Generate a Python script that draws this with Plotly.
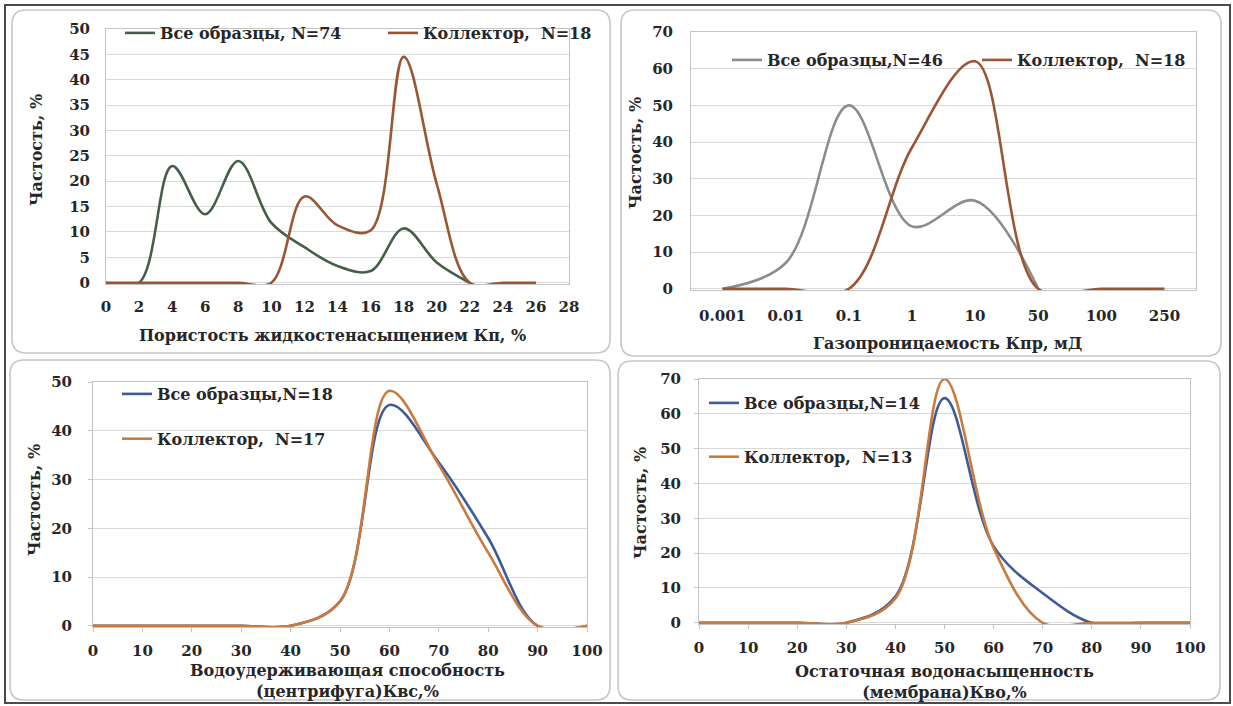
import plotly.graph_objects as go

W, H = 1233, 706

# ---------------- data ----------------
# Panel 1: porosity
por_x = [0, 2, 4, 6, 8, 10, 12, 14, 16, 18, 20, 22, 24, 26]
por_all = [0, 0, 23, 13.5, 24, 11.8, 7, 3.3, 2.3, 10.7, 4, 0, None, None]
por_col = [0, 0, 0, 0, 0, 0, 17, 11.3, 10.3, 44.5, 19.5, 0, 0, 0]
por_ticks = [0, 2, 4, 6, 8, 10, 12, 14, 16, 18, 20, 22, 24, 26, 28]

# Panel 2: gas permeability (category axis)
perm_cats = ["0.001", "0.01", "0.1", "1", "10", "50", "100", "250"]
perm_all = [0, 7, 50, 17, 24, 0, None, None]
perm_col = [0, 0, 0, 38.5, 62, 0, 0, 0]

# Panel 3: water holding capacity (centrifuge)
kvs_x = [0, 10, 20, 30, 40, 50, 60, 70, 80, 90, 100]
kvs_all = [0, 0, 0, 0, 0, 5, 45.3, 33.5, 18, 0, 0]
kvs_col = [0, 0, 0, 0, 0, 5, 48.2, 33, 15, 0, 0]

# Panel 4: residual water saturation (membrane)
kvo_x = [0, 10, 20, 30, 40, 50, 60, 70, 80, 90, 100]
kvo_all = [0, 0, 0, 0, 7.5, 64.5, 22, 8.5, 0, 0, 0]
kvo_col = [0, 0, 0, 0, 7, 70, 21.5, 0, 0, 0, 0]

names1 = ["Все образцы, N=74", "Коллектор,\u00a0 N=18"]
names2 = ["Все образцы,N=46", "Коллектор,\u00a0 N=18"]
names3 = ["Все образцы,N=18", "Коллектор,\u00a0 N=17"]
names4 = ["Все образцы,N=14", "Коллектор,\u00a0 N=13"]

GREEN = "#435f48"
BROWN = "#9a5533"
GRAY = "#8c8c8c"
BLUE = "#3d5a9a"
ORANGE = "#c97a3c"

FONT = "DejaVu Serif"
TXT = "#262626"


def px(x):
    return x / W


def py(y):
    return 1 - y / H


fig = go.Figure()
LW = 2.6
spl = dict(shape="spline", smoothing=1.0)

fig.add_trace(go.Scatter(x=por_x, y=por_all, mode="lines", name=names1[0],
                         line=dict(color=GREEN, width=LW, **spl), xaxis="x", yaxis="y",
                         legend="legend"))
fig.add_trace(go.Scatter(x=por_x, y=por_col, mode="lines", name=names1[1],
                         line=dict(color=BROWN, width=LW, **spl), xaxis="x", yaxis="y",
                         legend="legend"))

fig.add_trace(go.Scatter(x=perm_cats, y=perm_all, mode="lines", name=names2[0],
                         line=dict(color=GRAY, width=LW, **spl), xaxis="x2", yaxis="y2",
                         legend="legend2"))
fig.add_trace(go.Scatter(x=perm_cats, y=perm_col, mode="lines", name=names2[1],
                         line=dict(color=BROWN, width=LW, **spl), xaxis="x2", yaxis="y2",
                         legend="legend2"))

fig.add_trace(go.Scatter(x=kvs_x, y=kvs_all, mode="lines", name=names3[0],
                         line=dict(color=BLUE, width=LW, **spl), xaxis="x3", yaxis="y3",
                         legend="legend3", legendgroup="a3"))
fig.add_trace(go.Scatter(x=kvs_x, y=kvs_col, mode="lines", name=names3[1],
                         line=dict(color=ORANGE, width=LW, **spl), xaxis="x3", yaxis="y3",
                         legend="legend3", legendgroup="b3"))

fig.add_trace(go.Scatter(x=kvo_x, y=kvo_all, mode="lines", name=names4[0],
                         line=dict(color=BLUE, width=LW, **spl), xaxis="x4", yaxis="y4",
                         legend="legend4", legendgroup="a4"))
fig.add_trace(go.Scatter(x=kvo_x, y=kvo_col, mode="lines", name=names4[1],
                         line=dict(color=ORANGE, width=LW, **spl), xaxis="x4", yaxis="y4",
                         legend="legend4", legendgroup="b4"))

tickfont = dict(family=FONT, size=15, color=TXT, weight="bold")
GRID = "#d9d9d9"
LINE = "#c4c4c4"


def xax(dom, anchor, **kw):
    d = dict(domain=[px(dom[0]), px(dom[1])], anchor=anchor, showgrid=False,
             showline=True, linecolor=LINE, linewidth=1, mirror=True,
             tickfont=tickfont, zeroline=False, fixedrange=True, automargin=False)
    d.update(kw)
    return d


def yax(dom, anchor, **kw):
    d = dict(domain=[py(dom[1]), py(dom[0])], anchor=anchor, showgrid=True,
             gridcolor=GRID, gridwidth=1, showline=True, linecolor=LINE,
             linewidth=1, mirror=True, tickfont=tickfont, zeroline=False,
             fixedrange=True, automargin=False)
    d.update(kw)
    return d


layout = dict(
    width=W, height=H,
    margin=dict(l=0, r=0, t=0, b=0, pad=0, autoexpand=False),
    paper_bgcolor="white", plot_bgcolor="white",
    font=dict(family=FONT, color=TXT),
    xaxis=xax((106, 569), "y", range=[0, 28], tickmode="array", tickvals=por_ticks,
              ticks="", ticklabelstandoff=9),
    yaxis=yax((29, 284), "x", range=[-0.25, 50], tick0=0, dtick=5, ticks="",
              ticklabelstandoff=12),
    xaxis2=xax((691, 1196), "y2", type="category", range=[-0.5, 7.5], ticks="",
               ticklabelstandoff=12),
    yaxis2=yax((32, 290), "x2", range=[-0.35, 70], tick0=0, dtick=10, ticks="",
               ticklabelstandoff=14),
    xaxis3=xax((93, 587), "y3", range=[0, 100], dtick=10, ticks="outside", ticklen=4,
               tickcolor=LINE, ticklabelstandoff=6),
    yaxis3=yax((382, 627), "x3", range=[-0.25, 50], dtick=10, ticks="outside", ticklen=4,
               tickcolor=LINE, ticklabelstandoff=13),
    xaxis4=xax((699, 1190), "y4", range=[0, 100], dtick=10, ticks="outside", ticklen=4,
               tickcolor=LINE, ticklabelstandoff=6),
    yaxis4=yax((379, 624), "x4", range=[-0.35, 70], dtick=10, ticks="outside", ticklen=4,
               tickcolor=LINE, ticklabelstandoff=10),
)

legfont = dict(family=FONT, size=16, color=TXT, weight="bold")
layout["legend"] = dict(orientation="h", x=px(120), y=py(33), xanchor="left", yanchor="middle",
                        font=legfont, bgcolor="rgba(0,0,0,0)", entrywidth=218,
                        entrywidthmode="pixels", itemclick=False, itemdoubleclick=False)
layout["legend2"] = dict(orientation="h", x=px(727), y=py(60), xanchor="left", yanchor="middle",
                         font=legfont, bgcolor="rgba(0,0,0,0)", entrywidth=205,
                         entrywidthmode="pixels", itemclick=False, itemdoubleclick=False)
layout["legend3"] = dict(orientation="v", x=px(117), y=py(377), xanchor="left", yanchor="top",
                         font=legfont, bgcolor="rgba(0,0,0,0)", tracegroupgap=21,
                         itemclick=False, itemdoubleclick=False)
layout["legend4"] = dict(orientation="v", x=px(704), y=py(386), xanchor="left", yanchor="top",
                         font=legfont, bgcolor="rgba(0,0,0,0)", tracegroupgap=30,
                         itemclick=False, itemdoubleclick=False)
fig.update_layout(**layout)


# ---------------- panel frames ----------------
def rounded(x0, y0, x1, y1, r=14):
    X = lambda v: f"{px(v):.5f}"
    Y = lambda v: f"{py(v):.5f}"
    return (f"M {X(x0 + r)},{Y(y0)} L {X(x1 - r)},{Y(y0)} Q {X(x1)},{Y(y0)} {X(x1)},{Y(y0 + r)} "
            f"L {X(x1)},{Y(y1 - r)} Q {X(x1)},{Y(y1)} {X(x1 - r)},{Y(y1)} "
            f"L {X(x0 + r)},{Y(y1)} Q {X(x0)},{Y(y1)} {X(x0)},{Y(y1 - r)} "
            f"L {X(x0)},{Y(y0 + r)} Q {X(x0)},{Y(y0)} {X(x0 + r)},{Y(y0)} Z")


shapes = []
for (a, b, c, d) in [(12, 10, 610, 353), (621, 10, 1221, 356),
                     (10, 360, 610, 700), (618, 361, 1220, 700)]:
    shapes.append(dict(type="path", path=rounded(a, b, c, d), xref="paper", yref="paper",
                       line=dict(color="#c6c6c6", width=1.6), layer="below"))
shapes.append(dict(type="rect", xref="paper", yref="paper", x0=px(5), y0=py(703),
                   x1=px(1230), y1=py(5), line=dict(color="#4a4a4a", width=2)))
fig.update_layout(shapes=shapes)

# ---------------- axis titles ----------------
tfont = dict(family=FONT, size=16, color=TXT, weight="bold")
ann = []
ann.append(dict(text="Пористость жидкостенасыщением Кп, %", x=px(332), y=py(335)))
ann.append(dict(text="Газопроницаемость Кпр, мД", x=px(948), y=py(344)))
ann.append(dict(text="Водоудерживающая способность<br>(центрифуга)Квс,%", x=px(347), y=py(681)))
ann.append(dict(text="Остаточная водонасыщенность<br>(мембрана)Кво,%", x=px(944), y=py(682)))
for (xx, yy) in [(37, 150), (635, 153), (35, 500), (640, 503)]:
    ann.append(dict(text="Частость, %", x=px(xx), y=py(yy), textangle=-90))
for a in ann:
    a.update(xref="paper", yref="paper", showarrow=False, font=tfont,
             xanchor="center", yanchor="middle")
fig.update_layout(annotations=ann)

fig.write_html("out.html", config={"displayModeBar": False},
               post_script="document.body.style.margin='0px';"
                           "document.body.style.overflow='hidden';")
